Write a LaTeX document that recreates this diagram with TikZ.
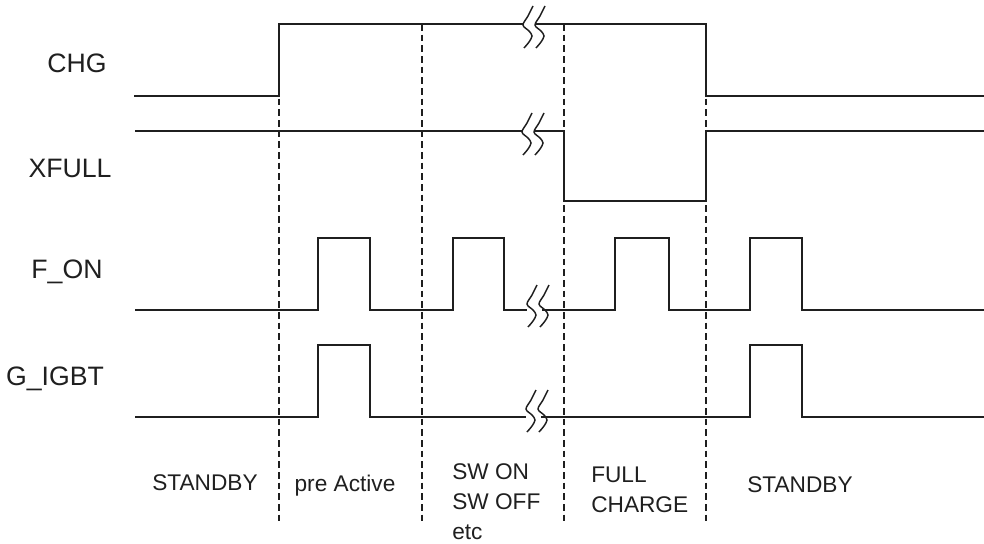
\documentclass[tikz,border=0pt]{standalone}
\usepackage{fontspec}
\setmainfont{Liberation Sans}
\begin{document}
\begin{tikzpicture}[x=0.75pt,y=-0.75pt,
  sig/.style={line width=1.3pt, line join=miter, color=black!88},
  guide/.style={line width=1pt, dash pattern=on 5pt off 3pt, color=black!88},
  brkline/.style={line width=1.1pt, color=black!88},
  lbl/.style={font=\fontsize{20}{24}\selectfont, inner sep=0pt, anchor=base, text=black!88},
  phase/.style={font=\fontsize{17}{22.5}\selectfont, inner sep=0pt, text=black!88},
  brk/.pic={
    \draw[brkline] plot[smooth, tension=0.55] coordinates {(6,-20) (1,-10) (-4,-1) (2,5) (5,10) (2,16) (-3,22)};
    \draw[brkline] plot[smooth, tension=0.55] coordinates {(18,-20) (13,-10) (8,-1) (14,5) (17,10) (14,16) (9,22)};
  }
]
\useasboundingbox (0,0) rectangle (984,543);

% phase guide lines
\foreach \gx in {279,422,564,706}
  \draw[guide] (\gx,24) -- (\gx,525);

% CHG
\draw[sig] (134,96) -- (279,96) -- (279,24) -- (523,24);
\pic at (527,26) {brk};
\draw[sig] (536,24) -- (706,24) -- (706,96) -- (984,96);

% XFULL
\draw[sig] (135,131) -- (522,131);
\pic at (526,133) {brk};
\draw[sig] (535,131) -- (564,131) -- (564,201) -- (706,201) -- (706,131) -- (984,131);

% F_ON
\draw[sig] (135,310) -- (318,310) -- (318,238) -- (370,238) -- (370,310)
  -- (453,310) -- (453,238) -- (504,238) -- (504,310) -- (527,310);
\pic at (531,305) {brk};
\draw[sig] (542,310) -- (615,310) -- (615,238) -- (669,238) -- (669,310)
  -- (750,310) -- (750,238) -- (802,238) -- (802,310) -- (984,310);

% G_IGBT
\draw[sig] (135,417) -- (318,417) -- (318,345) -- (370,345) -- (370,417) -- (526,417);
\pic at (530,410) {brk};
\draw[sig] (541,417) -- (750,417) -- (750,345) -- (802,345) -- (802,417) -- (984,417);

% signal labels
\node[lbl] (lchg) at (77,72) {CHG};
\node[lbl] (lxfull) at (70,177) {XFULL};
\node[lbl] (lfon) at (67,278) {F\_ON};
\node[lbl] (ligbt) at (55,385) {G\_IGBT};

% phase labels
\node[phase, anchor=base] (p1) at (205,490) {STANDBY};
\node[phase, anchor=base] (p2) at (345,491) {pre Active};
\node[phase, anchor=north west, align=left] (p3) at (452,463) {SW ON\\SW OFF\\etc};
\node[phase, anchor=north west, align=left] (p4) at (591,467) {FULL\\CHARGE};
\node[phase, anchor=base] (p5) at (800,492) {STANDBY};
\end{tikzpicture}
\end{document}
